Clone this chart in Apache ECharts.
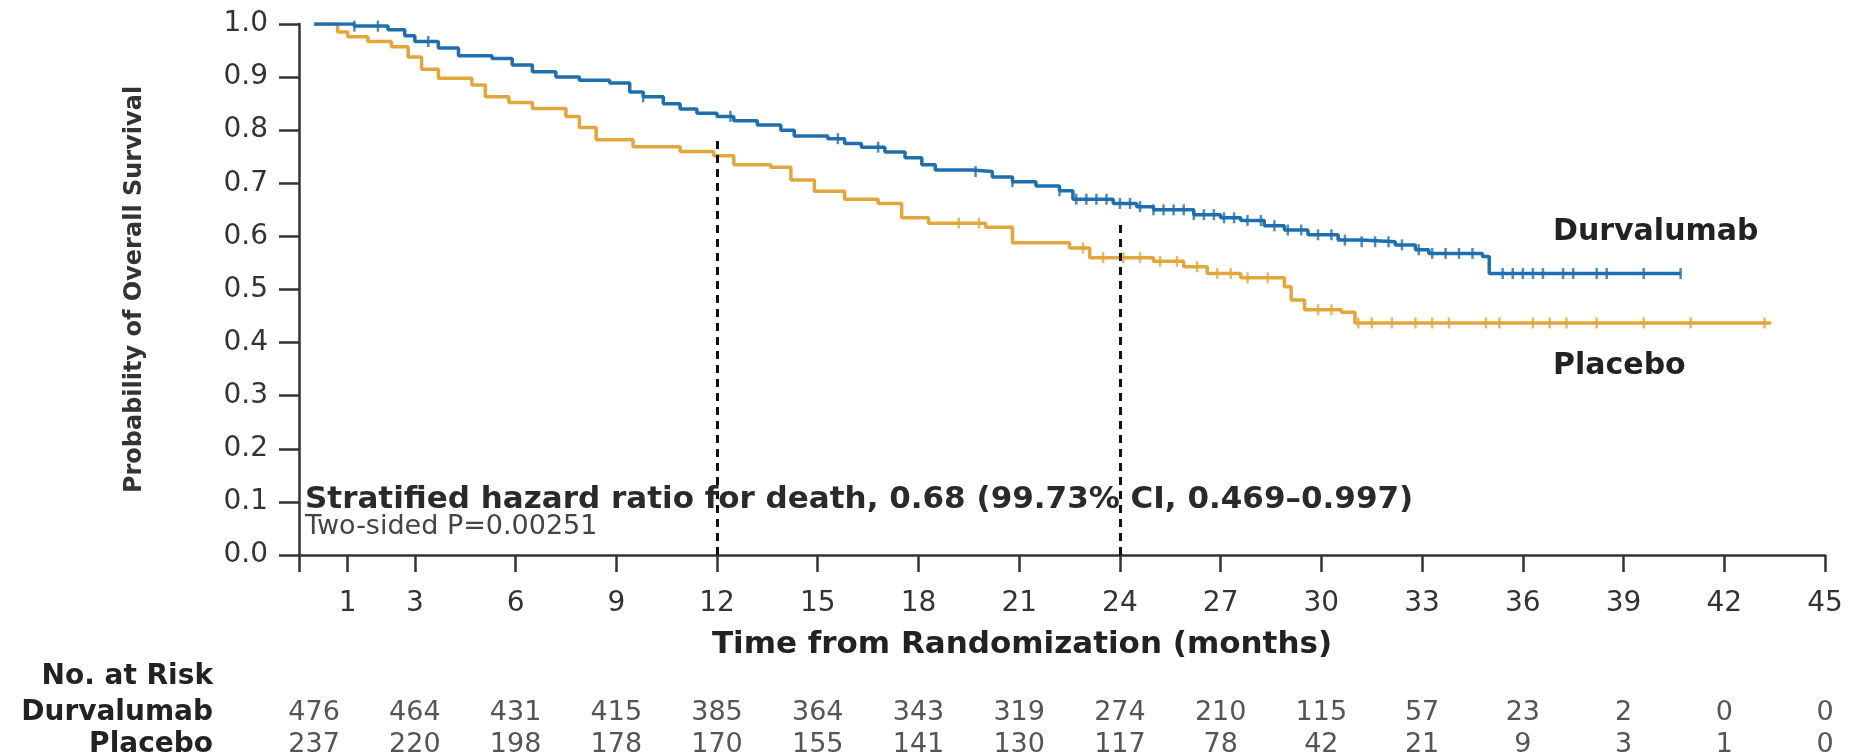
<!DOCTYPE html>
<html>
<head>
<meta charset="utf-8">
<script src="https://cdn.jsdelivr.net/npm/echarts@6/dist/echarts.min.js"></script>
<style>
html,body{margin:0;padding:0;background:#ffffff;}
#chart{width:1851px;height:754px;}
</style>
</head>
<body>
<div id="chart"></div>
<script>
// ---------- data ----------
const durvaTime = [0, 1.2, 2.2, 2.7, 3.0, 3.7, 4.3, 5.3, 5.9, 6.5, 7.2, 7.9, 8.8, 9.4, 9.8, 10.4, 10.9, 11.4, 12.0, 12.5, 13.2, 13.9, 14.3, 15.3, 15.8, 16.3, 17.0, 17.6, 18.1, 18.5, 19.6, 20.2, 20.8, 21.5, 22.2, 22.6, 23.8, 24.5, 25.0, 26.2, 27.0, 27.6, 28.3, 28.9, 29.6, 30.5, 31.2, 32.2, 32.8, 33.2, 34.8, 35.0, 40.7];
const durvaSurv = [1.000, 0.996, 0.989, 0.978, 0.967, 0.955, 0.940, 0.935, 0.923, 0.910, 0.900, 0.894, 0.889, 0.872, 0.863, 0.850, 0.840, 0.832, 0.826, 0.818, 0.810, 0.800, 0.789, 0.784, 0.775, 0.768, 0.759, 0.748, 0.735, 0.725, 0.722, 0.712, 0.703, 0.695, 0.686, 0.670, 0.662, 0.656, 0.650, 0.641, 0.635, 0.630, 0.620, 0.612, 0.603, 0.593, 0.590, 0.584, 0.575, 0.568, 0.562, 0.530, 0.530];

const placeboTime = [0, 0.7, 1.0, 1.6, 2.3, 2.8, 3.2, 3.7, 4.7, 5.1, 5.8, 6.5, 7.5, 7.9, 8.4, 9.5, 10.9, 11.9, 12.5, 13.6, 14.2, 14.9, 15.8, 16.8, 17.5, 18.3, 20.0, 20.8, 22.5, 23.1, 25.0, 25.9, 26.6, 27.6, 28.9, 29.1, 29.5, 30.6, 31.0, 43.4];
const placeboSurv = [1.000, 0.985, 0.976, 0.967, 0.957, 0.938, 0.915, 0.898, 0.885, 0.863, 0.852, 0.841, 0.826, 0.805, 0.782, 0.769, 0.760, 0.752, 0.735, 0.730, 0.706, 0.685, 0.670, 0.662, 0.635, 0.625, 0.617, 0.588, 0.578, 0.560, 0.553, 0.543, 0.530, 0.522, 0.505, 0.480, 0.462, 0.457, 0.437, 0.437];

const durvaCensor = [1.2, 1.9, 3.4, 9.8, 12.4, 15.6, 16.8, 19.7, 20.8, 22.2, 22.7, 23.0, 23.3, 23.6, 24.0, 24.3, 24.6, 25.0, 25.3, 25.6, 25.9, 26.2, 26.5, 26.8, 27.1, 27.4, 27.8, 28.2, 28.6, 29.0, 29.4, 29.9, 30.3, 30.7, 31.2, 31.6, 32.0, 32.4, 32.9, 33.3, 33.7, 34.1, 34.5, 35.4, 35.7, 36.0, 36.3, 36.6, 37.2, 37.5, 38.2, 38.5, 39.6, 40.7];
const placeboCensor = [19.2, 19.8, 22.9, 23.5, 24.1, 24.6, 25.2, 25.7, 26.3, 26.9, 27.3, 27.8, 28.4, 29.9, 30.3, 31.1, 31.5, 32.1, 32.8, 33.3, 33.8, 34.9, 35.3, 36.3, 36.8, 37.3, 38.2, 39.6, 41.0, 43.2];

const xTickValues = [1, 3, 6, 9, 12, 15, 18, 21, 24, 27, 30, 33, 36, 39, 42, 45];
const riskTimes = [0, 3, 6, 9, 12, 15, 18, 21, 24, 27, 30, 33, 36, 39, 42, 45];
const riskDurva = [476, 464, 431, 415, 385, 364, 343, 319, 274, 210, 115, 57, 23, 2, 0, 0];
const riskPlacebo = [237, 220, 198, 178, 170, 155, 141, 130, 117, 78, 42, 21, 9, 3, 1, 0];
const landmarkTimes = [12, 24];

const seriesNames = ['Durvalumab', 'Placebo'];
const yAxisTitle = 'Probability of Overall Survival';
const xAxisTitle = 'Time from Randomization (months)';
const hrText = 'Stratified hazard ratio for death, 0.68 (99.73% CI, 0.469\u20130.997)';
const pText = 'Two-sided P=0.00251';
const riskTitle = 'No. at Risk';

// ---------- styling ----------
const FONT = 'DejaVu Sans';
const BLUE = '#1f6fae';
const GOLD = '#e2a63c';
const AXIS = '#333333';
const X_MIN = -0.45, X_MAX = 45;

function zip(t, v) { return t.map((x, i) => [x, v[i]]); }
function survAt(times, surv, t) {
  let v = surv[0];
  for (let i = 0; i < times.length; i++) { if (times[i] <= t) v = surv[i]; }
  return v;
}

const chart = echarts.init(document.getElementById('chart'), null, { renderer: 'canvas' });

const option = {
  animation: false,
  backgroundColor: '#ffffff',
  grid: { left: 299, top: 24, width: 1526, height: 531, containLabel: false },
  xAxis: {
    type: 'value', min: X_MIN, max: X_MAX,
    axisLine: { show: true, onZero: false, lineStyle: { color: AXIS, width: 2.5 } },
    axisTick: { show: true, inside: false, length: 17, customValues: [X_MIN].concat(xTickValues), lineStyle: { color: AXIS, width: 2.5 } },
    axisLabel: { customValues: xTickValues, margin: 35, fontSize: 28, color: '#333', fontFamily: FONT },
    splitLine: { show: false }
  },
  yAxis: {
    type: 'value', min: 0, max: 1, interval: 0.1,
    axisLine: { show: true, onZero: false, lineStyle: { color: AXIS, width: 2.5 } },
    axisTick: { show: true, inside: false, length: 20, lineStyle: { color: AXIS, width: 2.5 } },
    axisLabel: { margin: 31, fontSize: 28, color: '#333', fontFamily: FONT, formatter: v => v.toFixed(1) },
    splitLine: { show: false }
  },
  series: [
    {
      name: seriesNames[0], type: 'line', step: 'end', showSymbol: false, silent: true,
      data: zip(durvaTime, durvaSurv), lineStyle: { color: BLUE, width: 3.5 }, z: 3
    },
    {
      name: seriesNames[1], type: 'line', step: 'end', showSymbol: false, silent: true,
      data: zip(placeboTime, placeboSurv), lineStyle: { color: GOLD, width: 3.5 }, z: 2
    },
    {
      type: 'scatter', silent: true, symbol: 'rect', symbolSize: [2.5, 11],
      data: durvaCensor.map(t => [t, survAt(durvaTime, durvaSurv, t)]),
      itemStyle: { color: BLUE }, z: 4
    },
    {
      type: 'scatter', silent: true, symbol: 'rect', symbolSize: [2.5, 11],
      data: placeboCensor.map(t => [t, survAt(placeboTime, placeboSurv, t)]),
      itemStyle: { color: GOLD }, z: 3
    },
    {
      type: 'line', data: [], silent: true,
      markLine: {
        silent: true, symbol: ['none', 'none'], label: { show: false },
        lineStyle: { color: '#111', width: 3, type: [8, 6] },
        data: landmarkTimes.map(t => [{ coord: [t, 0] }, { coord: [t, survAt(durvaTime, durvaSurv, t) - 0.035] }])
      }
    }
  ]
};
chart.setOption(option);

// ---------- text annotations & risk table ----------
function txt(x, y, text, o) {
  o = o || {};
  return {
    type: 'text', x: x, y: y, rotation: o.rotation || 0, silent: true, z: 10,
    style: {
      text: text, fill: o.color || '#333', fontSize: o.size || 25, fontFamily: FONT,
      fontWeight: o.weight || 'normal', align: o.align || 'left', verticalAlign: 'middle',
      textAlign: o.align || 'left', textVerticalAlign: 'middle'
    }
  };
}
const px = t => chart.convertToPixel({ xAxisIndex: 0 }, t);
const py = v => chart.convertToPixel({ yAxisIndex: 0 }, v);

const g = [];
g.push(txt(135, (py(0) + py(1)) / 2, yAxisTitle, { weight: 'bold', size: 24, align: 'center', rotation: Math.PI / 2, color: '#333' }));
g.push(txt(1022, 645, xAxisTitle, { weight: 'bold', size: 31, align: 'center', color: '#222' }));
g.push(txt(305, 500, hrText, { weight: 'bold', size: 31, color: '#2a2a2a' }));
g.push(txt(305, 527, pText, { size: 27, color: '#444' }));
g.push(txt(1553, 232, seriesNames[0], { weight: 'bold', size: 30, color: '#222' }));
g.push(txt(1553, 366, seriesNames[1], { weight: 'bold', size: 30, color: '#222' }));
g.push(txt(213, 677, riskTitle, { weight: 'bold', size: 28, align: 'right', color: '#222' }));
g.push(txt(213, 713, seriesNames[0], { weight: 'bold', size: 28, align: 'right', color: '#222' }));
g.push(txt(213, 745, seriesNames[1], { weight: 'bold', size: 28, align: 'right', color: '#222' }));
riskTimes.forEach((t, i) => {
  g.push(txt(px(t), 713, String(riskDurva[i]), { size: 27, align: 'center', color: '#555' }));
  g.push(txt(px(t), 745, String(riskPlacebo[i]), { size: 27, align: 'center', color: '#555' }));
});
chart.setOption({ graphic: g });
</script>
</body>
</html>
